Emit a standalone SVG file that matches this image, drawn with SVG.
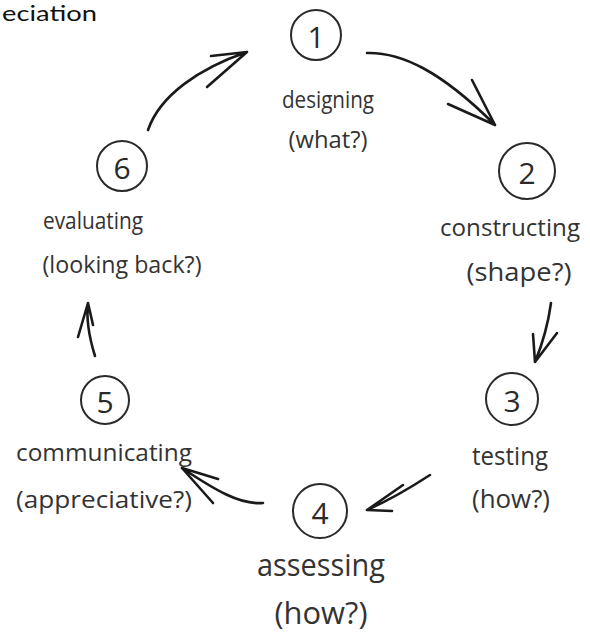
<svg xmlns="http://www.w3.org/2000/svg" width="590" height="633" viewBox="0 0 590 633">
<style>
.c{fill:none;stroke:#2a2a2a;stroke-width:2}
.n{font-family:"Open Sans","DejaVu Sans",sans-serif;font-size:30px;fill:#2a2a2a;text-anchor:middle;dominant-baseline:central}
.t{font-family:"Open Sans","DejaVu Sans",sans-serif;fill:#333;text-anchor:middle}
.a{fill:none;stroke:#1a1a1a;stroke-width:2.6;stroke-linecap:round;stroke-linejoin:round}
.h{font-family:"Lato","Noto Sans",sans-serif;font-size:21px;fill:#111}
</style>
<rect width="590" height="633" fill="#fff"/>
<text class="h" x="2" y="21" textLength="95" lengthAdjust="spacingAndGlyphs">eciation</text>
<g id="connectors">
  <path class="a" d="M367,53 C400,52 440,70 495,125 M495,125 L472,80 M495,125 L448,104"/>
  <path class="a" d="M551,303 C548,325 542,345 535,362 M535,362 L533,334 M535,362 L557,333"/>
  <path class="a" d="M430,475 C410,488 390,500 367,510 M367,510 L403,485 M367,510 L392,511"/>
  <path class="a" d="M263,503 C240,505 215,490 182,468 M182,468 L218,479 M182,468 L213,503"/>
  <path class="a" d="M95,356 C90,340 86,320 88,303 M88,303 L78,337 M88,303 L93,325"/>
  <path class="a" d="M148,130 C160,95 200,68 247,52 M247,52 L211,56 M247,52 L207,87"/>
</g>
<g id="node1">
  <circle class="c" cx="316" cy="35" r="25"/>
  <text class="n" x="316" y="36">1</text>
  <text class="t" x="328" y="108" font-size="23" textLength="92" lengthAdjust="spacingAndGlyphs">designing</text>
  <text class="t" x="328" y="148" font-size="23" textLength="79" lengthAdjust="spacingAndGlyphs">(what?)</text>
</g>
<g id="node2">
  <circle class="c" cx="527" cy="171" r="28"/>
  <text class="n" x="527" y="172">2</text>
  <text class="t" x="510" y="236" font-size="24" textLength="140" lengthAdjust="spacingAndGlyphs">constructing</text>
  <text class="t" x="519" y="281" font-size="26" textLength="105" lengthAdjust="spacingAndGlyphs">(shape?)</text>
</g>
<g id="node3">
  <circle class="c" cx="512" cy="399" r="26"/>
  <text class="n" x="512" y="400">3</text>
  <text class="t" x="510" y="465" font-size="26" textLength="76" lengthAdjust="spacingAndGlyphs">testing</text>
  <text class="t" x="511" y="508" font-size="26" textLength="78" lengthAdjust="spacingAndGlyphs">(how?)</text>
</g>
<g id="node4">
  <circle class="c" cx="320" cy="511" r="27"/>
  <text class="n" x="320" y="512">4</text>
  <text class="t" x="321" y="576" font-size="31" textLength="128" lengthAdjust="spacingAndGlyphs">assessing</text>
  <text class="t" x="321" y="624" font-size="31" textLength="93" lengthAdjust="spacingAndGlyphs">(how?)</text>
</g>
<g id="node5">
  <circle class="c" cx="105" cy="400" r="24"/>
  <text class="n" x="105" y="401">5</text>
  <text class="t" x="104" y="461" font-size="24" textLength="176" lengthAdjust="spacingAndGlyphs">communicating</text>
  <text class="t" x="104" y="508" font-size="24" textLength="176" lengthAdjust="spacingAndGlyphs">(appreciative?)</text>
</g>
<g id="node6">
  <circle class="c" cx="122" cy="166" r="25"/>
  <text class="n" x="122" y="167">6</text>
  <text class="t" x="93" y="229" font-size="23" textLength="100" lengthAdjust="spacingAndGlyphs">evaluating</text>
  <text class="t" x="122" y="273" font-size="23" textLength="159" lengthAdjust="spacingAndGlyphs">(looking back?)</text>
</g>
</svg>
